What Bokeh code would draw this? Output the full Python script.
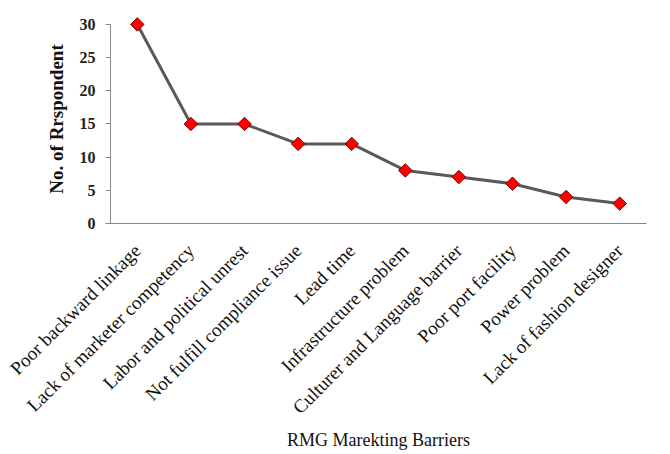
import math
from bokeh.plotting import figure
from bokeh.models import ColumnDataSource
from bokeh.embed import file_html
from bokeh.resources import INLINE

categories = [
    "Poor backward linkage",
    "Lack of marketer competency",
    "Labor and political unrest",
    "Not fulfill compliance issue",
    "Lead time",
    "Infrastructure problem",
    "Culturer and Language barrier",
    "Poor port facility",
    "Power problem",
    "Lack of fashion designer",
]
respondents = [30, 15, 15, 12, 12, 8, 7, 6, 4, 3]
y_ticks = [0, 5, 10, 15, 20, 25, 30]

src = ColumnDataSource(dict(cat=categories, val=respondents))

p = figure(
    x_range=categories, y_range=(0, 31.5),
    width=662, height=454,
    output_backend="svg", toolbar_location=None,
    min_border_left=110, min_border_right=16,
    min_border_top=14, min_border_bottom=231,
)
p.outline_line_color = None
p.xgrid.grid_line_color = None
p.ygrid.grid_line_color = None
p.background_fill_color = "white"
p.border_fill_color = "white"

p.line("cat", "val", source=src, line_color="#595959", line_width=3)
p.scatter("cat", "val", source=src, marker="square", angle=math.pi / 4,
          size=9.5, fill_color="#ff0000", line_color="#7a0000", line_width=1)

serif = "Liberation Serif"

ya = p.yaxis[0]
ya.ticker = y_ticks
ya.bounds = (0, 30)
ya.axis_line_color = "#868686"
ya.major_tick_line_color = "#868686"
ya.major_tick_out = 5
ya.major_tick_in = 0
ya.minor_tick_line_color = None
ya.major_label_text_font = serif
ya.major_label_text_font_size = "16px"
ya.major_label_text_font_style = "bold"
ya.major_label_text_color = "#222222"
ya.major_label_standoff = 10
ya.axis_label = "No. of Rrspondent"
ya.axis_label_text_font = serif
ya.axis_label_text_font_size = "19px"
ya.axis_label_text_font_style = "bold"
ya.axis_label_text_color = "#111111"
ya.axis_label_standoff = 10

xa = p.xaxis[0]
xa.axis_line_color = "#868686"
xa.major_tick_line_color = None
xa.minor_tick_line_color = None
xa.major_label_orientation = math.pi / 4
xa.major_label_text_font = serif
xa.major_label_text_font_size = "19px"
xa.major_label_text_color = "#111111"
xa.major_label_standoff = 18
xa.axis_label = "RMG Marekting Barriers"
xa.axis_label_text_font = serif
xa.axis_label_text_font_size = "18px"
xa.axis_label_text_font_style = "normal"
xa.axis_label_text_color = "#111111"
xa.axis_label_standoff = 2

open("out.html", "w").write(file_html(p, INLINE))
